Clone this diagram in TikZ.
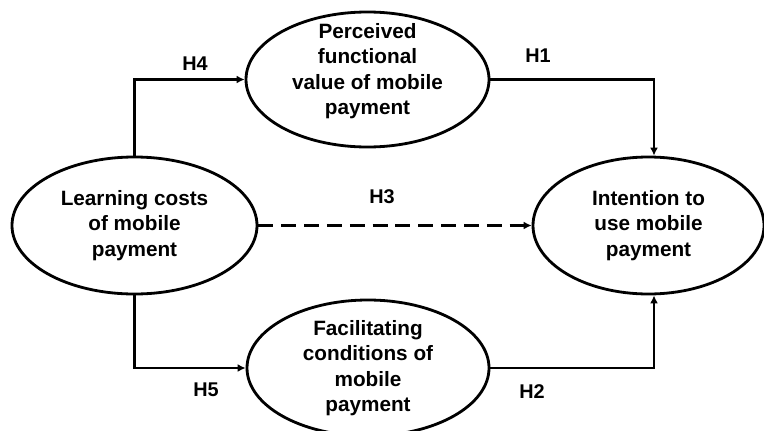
\documentclass[tikz,border=0pt]{standalone}
\usepackage{fontspec}
\setmainfont{Liberation Sans}
\usetikzlibrary{shapes.geometric,arrows.meta}
\begin{document}
\begin{tikzpicture}[>={Latex[length=4.5pt,width=4.5pt]}, line width=1.6pt,
    txt/.style={align=center, font=\bfseries\fontsize{11.8}{14.4}\selectfont},
    oval/.style={draw, ellipse, inner sep=0pt, txt},
    hyp/.style={font=\bfseries\fontsize{11.3}{12}\selectfont}]
\useasboundingbox (0,0) rectangle (15.28,-8.6);
\node[oval, minimum width=4.86cm, minimum height=2.7cm] (perc) at (7.35,-1.59) {};
\node[txt] (perctext) at (7.35,-1.42) {Perceived\\functional\\value of mobile\\payment};
\node[oval, minimum width=4.9cm, minimum height=2.74cm] (learn) at (2.69,-4.51) {Learning costs\\of mobile\\payment};
\node[oval, minimum width=4.62cm, minimum height=2.74cm] (intent) at (12.97,-4.51) {Intention to\\use mobile\\payment};
\node[oval, minimum width=4.84cm, minimum height=2.72cm] (facil) at (7.36,-7.36) {Facilitating\\conditions of\\mobile\\payment};

\draw[->] (learn.north) |- (perc.west);
\draw[->] (perc.east) -| ([xshift=.11cm]intent.north);
\draw[->, dash pattern=on 8.5pt off 4.5pt] (learn.east) -- (intent.west);
\draw[->] (learn.south) |- (facil.west);
\draw[->] (facil.east) -| ([xshift=.11cm]intent.south);

\node[hyp] (h4) at (3.9,-1.28) {H4};
\node[hyp] (h1) at (10.76,-1.12) {H1};
\node[hyp] (h3) at (7.64,-3.94) {H3};
\node[hyp] (h5) at (4.12,-7.8) {H5};
\node[hyp] (h2) at (10.64,-7.84) {H2};
\end{tikzpicture}
\end{document}
